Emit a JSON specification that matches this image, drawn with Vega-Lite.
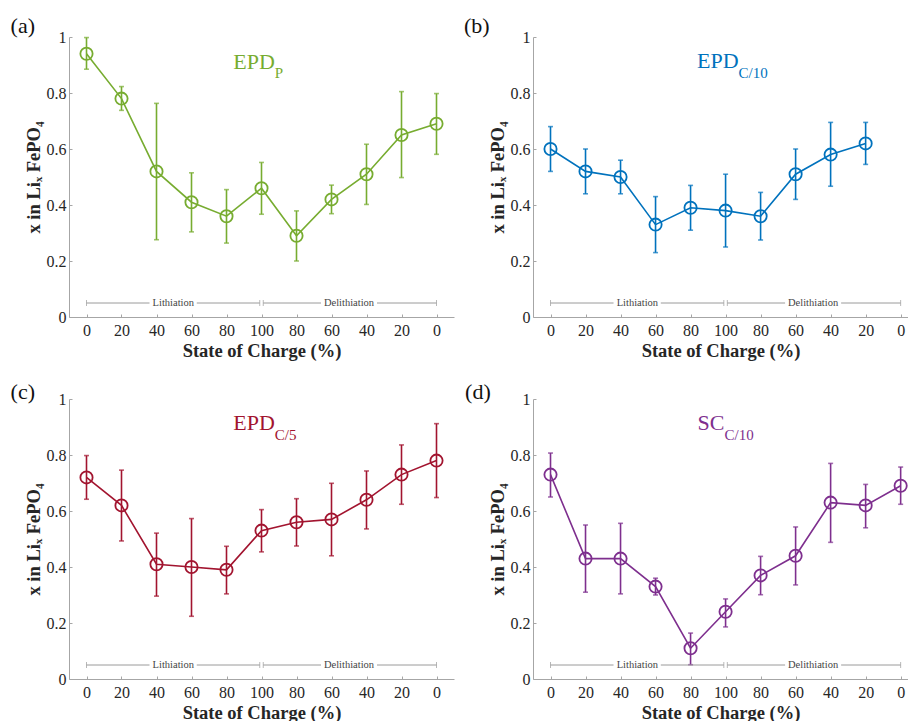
{
  "$schema": "https://vega.github.io/schema/vega-lite/v6.json",
  "padding": {"left": 10, "top": 14, "right": 0, "bottom": 0},
  "background": "white",
  "datasets": {
    "pts": [
      {"p":"a","i":0,"v":0.94,"lo":0.885,"hi":0.998},
      {"p":"a","i":1,"v":0.78,"lo":0.738,"hi":0.823},
      {"p":"a","i":2,"v":0.52,"lo":0.276,"hi":0.763},
      {"p":"a","i":3,"v":0.41,"lo":0.304,"hi":0.515},
      {"p":"a","i":4,"v":0.36,"lo":0.264,"hi":0.455},
      {"p":"a","i":5,"v":0.46,"lo":0.367,"hi":0.552},
      {"p":"a","i":6,"v":0.29,"lo":0.20,"hi":0.379},
      {"p":"a","i":7,"v":0.42,"lo":0.369,"hi":0.471},
      {"p":"a","i":8,"v":0.51,"lo":0.402,"hi":0.617},
      {"p":"a","i":9,"v":0.65,"lo":0.498,"hi":0.805},
      {"p":"a","i":10,"v":0.69,"lo":0.581,"hi":0.798},
      {"p":"b","i":0,"v":0.60,"lo":0.52,"hi":0.68},
      {"p":"b","i":1,"v":0.52,"lo":0.44,"hi":0.60},
      {"p":"b","i":2,"v":0.50,"lo":0.44,"hi":0.56},
      {"p":"b","i":3,"v":0.33,"lo":0.23,"hi":0.43},
      {"p":"b","i":4,"v":0.39,"lo":0.31,"hi":0.47},
      {"p":"b","i":5,"v":0.38,"lo":0.25,"hi":0.51},
      {"p":"b","i":6,"v":0.36,"lo":0.275,"hi":0.445},
      {"p":"b","i":7,"v":0.51,"lo":0.42,"hi":0.60},
      {"p":"b","i":8,"v":0.58,"lo":0.467,"hi":0.695},
      {"p":"b","i":9,"v":0.62,"lo":0.545,"hi":0.695},
      {"p":"c","i":0,"v":0.72,"lo":0.642,"hi":0.798},
      {"p":"c","i":1,"v":0.62,"lo":0.493,"hi":0.746},
      {"p":"c","i":2,"v":0.41,"lo":0.296,"hi":0.521},
      {"p":"c","i":3,"v":0.40,"lo":0.224,"hi":0.573},
      {"p":"c","i":4,"v":0.39,"lo":0.304,"hi":0.474},
      {"p":"c","i":5,"v":0.53,"lo":0.454,"hi":0.605},
      {"p":"c","i":6,"v":0.56,"lo":0.475,"hi":0.644},
      {"p":"c","i":7,"v":0.57,"lo":0.44,"hi":0.699},
      {"p":"c","i":8,"v":0.64,"lo":0.536,"hi":0.743},
      {"p":"c","i":9,"v":0.73,"lo":0.624,"hi":0.836},
      {"p":"c","i":10,"v":0.78,"lo":0.648,"hi":0.912},
      {"p":"d","i":0,"v":0.73,"lo":0.65,"hi":0.807},
      {"p":"d","i":1,"v":0.43,"lo":0.31,"hi":0.55},
      {"p":"d","i":2,"v":0.43,"lo":0.304,"hi":0.556},
      {"p":"d","i":3,"v":0.33,"lo":0.30,"hi":0.36},
      {"p":"d","i":4,"v":0.11,"lo":0.051,"hi":0.164},
      {"p":"d","i":5,"v":0.24,"lo":0.186,"hi":0.286},
      {"p":"d","i":6,"v":0.37,"lo":0.301,"hi":0.438},
      {"p":"d","i":7,"v":0.44,"lo":0.336,"hi":0.543},
      {"p":"d","i":8,"v":0.63,"lo":0.488,"hi":0.77},
      {"p":"d","i":9,"v":0.62,"lo":0.54,"hi":0.695},
      {"p":"d","i":10,"v":0.69,"lo":0.624,"hi":0.757}
    ],
    "seg": [{"s":0,"e":1.8},{"s":3.15,"e":4.95},{"s":5.05,"e":6.7},{"s":8.3,"e":10}],
    "caps": [{"c":0},{"c":4.95},{"c":5.05},{"c":10}],
    "phase": [{"t":"Lithiation","x":2.48},{"t":"Delithiation","x":7.5}],
    "lab": [
      {"p":"a","tag":"(a)","main":"EPD","sub":"P"},
      {"p":"b","tag":"(b)","main":"EPD","sub":"C/10"},
      {"p":"c","tag":"(c)","main":"EPD","sub":"C/5"},
      {"p":"d","tag":"(d)","main":"SC","sub":"C/10"}
    ]
  },
  "columns": 2,
  "spacing": {"row": 82, "column": 79},
  "bounds": "flush",
  "concat": [
      {
        "width": 385, "height": 280,
        "layer": [
          {"data": {"name": "pts"}, "transform": [{"filter": "datum.p==='a'"}],
           "mark": {"type": "line", "color": "#77AC30", "strokeWidth": 1.6},
           "encoding": {
             "x": {"field": "i", "type": "quantitative", "title": "State of Charge (%)", "scale": {"domain": [-0.5, 10.5], "nice": false, "zero": false}, "axis": {"values": [0,1,2,3,4,5,6,7,8,9,10], "tickCount": 30, "labelOverlap": false, "labelExpr": "datum.value <= 5 ? '' + round(datum.value*20) : '' + round((10-datum.value)*20)"}},
             "y": {"field": "v", "type": "quantitative", "title": "x in Liₓ FePO₄", "scale": {"domain": [0, 1], "nice": false}, "axis": {"values": [0,0.2,0.4,0.6,0.8,1], "tickCount": 30, "labelOverlap": false, "format": ".1~f"}}}},
          {"data": {"name": "pts"}, "transform": [{"filter": "datum.p==='a'"}],
           "mark": {"type": "rule", "color": "#77AC30", "strokeWidth": 1.6},
           "encoding": {"x": {"field": "i", "type": "quantitative", "title": "State of Charge (%)"}, "y": {"field": "lo", "type": "quantitative", "title": "x in Liₓ FePO₄"}, "y2": {"field": "hi"}}},
          {"data": {"name": "pts"}, "transform": [{"filter": "datum.p==='a'"}],
           "mark": {"type": "tick", "orient": "horizontal", "color": "#77AC30", "size": 5, "thickness": 1.6},
           "encoding": {"x": {"field": "i", "type": "quantitative", "title": "State of Charge (%)"}, "y": {"field": "lo", "type": "quantitative", "title": "x in Liₓ FePO₄"}}},
          {"data": {"name": "pts"}, "transform": [{"filter": "datum.p==='a'"}],
           "mark": {"type": "tick", "orient": "horizontal", "color": "#77AC30", "size": 5, "thickness": 1.6},
           "encoding": {"x": {"field": "i", "type": "quantitative", "title": "State of Charge (%)"}, "y": {"field": "hi", "type": "quantitative", "title": "x in Liₓ FePO₄"}}},
          {"data": {"name": "pts"}, "transform": [{"filter": "datum.p==='a'"}],
           "mark": {"type": "point", "shape": "circle", "filled": false, "color": "#77AC30", "size": 150, "strokeWidth": 1.8, "opacity": 1},
           "encoding": {"x": {"field": "i", "type": "quantitative", "title": "State of Charge (%)"}, "y": {"field": "v", "type": "quantitative", "title": "x in Liₓ FePO₄"}}},
          {"data": {"name": "seg"},
           "mark": {"type": "rule", "color": "#9a9a9a", "strokeWidth": 1},
           "encoding": {"x": {"field": "s", "type": "quantitative", "title": "State of Charge (%)"}, "x2": {"field": "e"}, "y": {"datum": 0.05, "type": "quantitative", "title": "x in Liₓ FePO₄"}}},
          {"data": {"name": "caps"},
           "mark": {"type": "tick", "orient": "vertical", "color": "#9a9a9a", "size": 6, "thickness": 1},
           "encoding": {"x": {"field": "c", "type": "quantitative", "title": "State of Charge (%)"}, "y": {"datum": 0.05, "type": "quantitative", "title": "x in Liₓ FePO₄"}}},
          {"data": {"name": "phase"},
           "mark": {"type": "text", "font": "Liberation Serif", "fontSize": 10.5, "color": "#444", "baseline": "middle", "align": "center"},
           "encoding": {"x": {"field": "x", "type": "quantitative", "title": "State of Charge (%)"}, "y": {"datum": 0.05, "type": "quantitative", "title": "x in Liₓ FePO₄"}, "text": {"field": "t"}}},
          {"data": {"name": "lab"}, "transform": [{"filter": "datum.p==='a'"}],
           "mark": {"type": "text", "font": "Liberation Serif", "fontSize": 22, "color": "#77AC30", "align": "right", "baseline": "alphabetic"},
           "encoding": {"x": {"datum": 5.38, "type": "quantitative", "title": "State of Charge (%)"}, "y": {"datum": 0.886, "type": "quantitative", "title": "x in Liₓ FePO₄"}, "text": {"field": "main"}}},
          {"data": {"name": "lab"}, "transform": [{"filter": "datum.p==='a'"}],
           "mark": {"type": "text", "font": "Liberation Serif", "fontSize": 15, "color": "#77AC30", "align": "left", "baseline": "alphabetic"},
           "encoding": {"x": {"datum": 5.38, "type": "quantitative", "title": "State of Charge (%)"}, "y": {"datum": 0.854, "type": "quantitative", "title": "x in Liₓ FePO₄"}, "text": {"field": "sub"}}},
          {"data": {"name": "lab"}, "transform": [{"filter": "datum.p==='a'"}],
           "mark": {"type": "text", "font": "Liberation Serif", "fontSize": 22, "color": "#111", "align": "left", "baseline": "alphabetic"},
           "encoding": {"x": {"datum": -2.17, "type": "quantitative", "title": "State of Charge (%)"}, "y": {"datum": 1.015, "type": "quantitative", "title": "x in Liₓ FePO₄"}, "text": {"field": "tag"}}}
        ]
      },
      {
        "width": 375, "height": 280,
        "layer": [
          {"data": {"name": "pts"}, "transform": [{"filter": "datum.p==='b'"}],
           "mark": {"type": "line", "color": "#0072BD", "strokeWidth": 1.6},
           "encoding": {
             "x": {"field": "i", "type": "quantitative", "title": "State of Charge (%)", "scale": {"domain": [-0.5, 10.21], "nice": false, "zero": false}, "axis": {"values": [0,1,2,3,4,5,6,7,8,9,10], "tickCount": 30, "labelOverlap": false, "labelExpr": "datum.value <= 5 ? '' + round(datum.value*20) : '' + round((10-datum.value)*20)"}},
             "y": {"field": "v", "type": "quantitative", "title": "x in Liₓ FePO₄", "scale": {"domain": [0, 1], "nice": false}, "axis": {"values": [0,0.2,0.4,0.6,0.8,1], "tickCount": 30, "labelOverlap": false, "format": ".1~f"}}}},
          {"data": {"name": "pts"}, "transform": [{"filter": "datum.p==='b'"}],
           "mark": {"type": "rule", "color": "#0072BD", "strokeWidth": 1.6},
           "encoding": {"x": {"field": "i", "type": "quantitative", "title": "State of Charge (%)"}, "y": {"field": "lo", "type": "quantitative", "title": "x in Liₓ FePO₄"}, "y2": {"field": "hi"}}},
          {"data": {"name": "pts"}, "transform": [{"filter": "datum.p==='b'"}],
           "mark": {"type": "tick", "orient": "horizontal", "color": "#0072BD", "size": 5, "thickness": 1.6},
           "encoding": {"x": {"field": "i", "type": "quantitative", "title": "State of Charge (%)"}, "y": {"field": "lo", "type": "quantitative", "title": "x in Liₓ FePO₄"}}},
          {"data": {"name": "pts"}, "transform": [{"filter": "datum.p==='b'"}],
           "mark": {"type": "tick", "orient": "horizontal", "color": "#0072BD", "size": 5, "thickness": 1.6},
           "encoding": {"x": {"field": "i", "type": "quantitative", "title": "State of Charge (%)"}, "y": {"field": "hi", "type": "quantitative", "title": "x in Liₓ FePO₄"}}},
          {"data": {"name": "pts"}, "transform": [{"filter": "datum.p==='b'"}],
           "mark": {"type": "point", "shape": "circle", "filled": false, "color": "#0072BD", "size": 150, "strokeWidth": 1.8, "opacity": 1},
           "encoding": {"x": {"field": "i", "type": "quantitative", "title": "State of Charge (%)"}, "y": {"field": "v", "type": "quantitative", "title": "x in Liₓ FePO₄"}}},
          {"data": {"name": "seg"},
           "mark": {"type": "rule", "color": "#9a9a9a", "strokeWidth": 1},
           "encoding": {"x": {"field": "s", "type": "quantitative", "title": "State of Charge (%)"}, "x2": {"field": "e"}, "y": {"datum": 0.05, "type": "quantitative", "title": "x in Liₓ FePO₄"}}},
          {"data": {"name": "caps"},
           "mark": {"type": "tick", "orient": "vertical", "color": "#9a9a9a", "size": 6, "thickness": 1},
           "encoding": {"x": {"field": "c", "type": "quantitative", "title": "State of Charge (%)"}, "y": {"datum": 0.05, "type": "quantitative", "title": "x in Liₓ FePO₄"}}},
          {"data": {"name": "phase"},
           "mark": {"type": "text", "font": "Liberation Serif", "fontSize": 10.5, "color": "#444", "baseline": "middle", "align": "center"},
           "encoding": {"x": {"field": "x", "type": "quantitative", "title": "State of Charge (%)"}, "y": {"datum": 0.05, "type": "quantitative", "title": "x in Liₓ FePO₄"}, "text": {"field": "t"}}},
          {"data": {"name": "lab"}, "transform": [{"filter": "datum.p==='b'"}],
           "mark": {"type": "text", "font": "Liberation Serif", "fontSize": 22, "color": "#0072BD", "align": "right", "baseline": "alphabetic"},
           "encoding": {"x": {"datum": 5.37, "type": "quantitative", "title": "State of Charge (%)"}, "y": {"datum": 0.89, "type": "quantitative", "title": "x in Liₓ FePO₄"}, "text": {"field": "main"}}},
          {"data": {"name": "lab"}, "transform": [{"filter": "datum.p==='b'"}],
           "mark": {"type": "text", "font": "Liberation Serif", "fontSize": 15, "color": "#0072BD", "align": "left", "baseline": "alphabetic"},
           "encoding": {"x": {"datum": 5.37, "type": "quantitative", "title": "State of Charge (%)"}, "y": {"datum": 0.853, "type": "quantitative", "title": "x in Liₓ FePO₄"}, "text": {"field": "sub"}}},
          {"data": {"name": "lab"}, "transform": [{"filter": "datum.p==='b'"}],
           "mark": {"type": "text", "font": "Liberation Serif", "fontSize": 22, "color": "#111", "align": "left", "baseline": "alphabetic"},
           "encoding": {"x": {"datum": -2.47, "type": "quantitative", "title": "State of Charge (%)"}, "y": {"datum": 1.015, "type": "quantitative", "title": "x in Liₓ FePO₄"}, "text": {"field": "tag"}}}
        ]
      },
      {
        "width": 385, "height": 280,
        "layer": [
          {"data": {"name": "pts"}, "transform": [{"filter": "datum.p==='c'"}],
           "mark": {"type": "line", "color": "#A2142F", "strokeWidth": 1.6},
           "encoding": {
             "x": {"field": "i", "type": "quantitative", "title": "State of Charge (%)", "scale": {"domain": [-0.5, 10.5], "nice": false, "zero": false}, "axis": {"values": [0,1,2,3,4,5,6,7,8,9,10], "tickCount": 30, "labelOverlap": false, "labelExpr": "datum.value <= 5 ? '' + round(datum.value*20) : '' + round((10-datum.value)*20)"}},
             "y": {"field": "v", "type": "quantitative", "title": "x in Liₓ FePO₄", "scale": {"domain": [0, 1], "nice": false}, "axis": {"values": [0,0.2,0.4,0.6,0.8,1], "tickCount": 30, "labelOverlap": false, "format": ".1~f"}}}},
          {"data": {"name": "pts"}, "transform": [{"filter": "datum.p==='c'"}],
           "mark": {"type": "rule", "color": "#A2142F", "strokeWidth": 1.6},
           "encoding": {"x": {"field": "i", "type": "quantitative", "title": "State of Charge (%)"}, "y": {"field": "lo", "type": "quantitative", "title": "x in Liₓ FePO₄"}, "y2": {"field": "hi"}}},
          {"data": {"name": "pts"}, "transform": [{"filter": "datum.p==='c'"}],
           "mark": {"type": "tick", "orient": "horizontal", "color": "#A2142F", "size": 5, "thickness": 1.6},
           "encoding": {"x": {"field": "i", "type": "quantitative", "title": "State of Charge (%)"}, "y": {"field": "lo", "type": "quantitative", "title": "x in Liₓ FePO₄"}}},
          {"data": {"name": "pts"}, "transform": [{"filter": "datum.p==='c'"}],
           "mark": {"type": "tick", "orient": "horizontal", "color": "#A2142F", "size": 5, "thickness": 1.6},
           "encoding": {"x": {"field": "i", "type": "quantitative", "title": "State of Charge (%)"}, "y": {"field": "hi", "type": "quantitative", "title": "x in Liₓ FePO₄"}}},
          {"data": {"name": "pts"}, "transform": [{"filter": "datum.p==='c'"}],
           "mark": {"type": "point", "shape": "circle", "filled": false, "color": "#A2142F", "size": 150, "strokeWidth": 1.8, "opacity": 1},
           "encoding": {"x": {"field": "i", "type": "quantitative", "title": "State of Charge (%)"}, "y": {"field": "v", "type": "quantitative", "title": "x in Liₓ FePO₄"}}},
          {"data": {"name": "seg"},
           "mark": {"type": "rule", "color": "#9a9a9a", "strokeWidth": 1},
           "encoding": {"x": {"field": "s", "type": "quantitative", "title": "State of Charge (%)"}, "x2": {"field": "e"}, "y": {"datum": 0.05, "type": "quantitative", "title": "x in Liₓ FePO₄"}}},
          {"data": {"name": "caps"},
           "mark": {"type": "tick", "orient": "vertical", "color": "#9a9a9a", "size": 6, "thickness": 1},
           "encoding": {"x": {"field": "c", "type": "quantitative", "title": "State of Charge (%)"}, "y": {"datum": 0.05, "type": "quantitative", "title": "x in Liₓ FePO₄"}}},
          {"data": {"name": "phase"},
           "mark": {"type": "text", "font": "Liberation Serif", "fontSize": 10.5, "color": "#444", "baseline": "middle", "align": "center"},
           "encoding": {"x": {"field": "x", "type": "quantitative", "title": "State of Charge (%)"}, "y": {"datum": 0.05, "type": "quantitative", "title": "x in Liₓ FePO₄"}, "text": {"field": "t"}}},
          {"data": {"name": "lab"}, "transform": [{"filter": "datum.p==='c'"}],
           "mark": {"type": "text", "font": "Liberation Serif", "fontSize": 22, "color": "#A2142F", "align": "right", "baseline": "alphabetic"},
           "encoding": {"x": {"datum": 5.38, "type": "quantitative", "title": "State of Charge (%)"}, "y": {"datum": 0.889, "type": "quantitative", "title": "x in Liₓ FePO₄"}, "text": {"field": "main"}}},
          {"data": {"name": "lab"}, "transform": [{"filter": "datum.p==='c'"}],
           "mark": {"type": "text", "font": "Liberation Serif", "fontSize": 15, "color": "#A2142F", "align": "left", "baseline": "alphabetic"},
           "encoding": {"x": {"datum": 5.38, "type": "quantitative", "title": "State of Charge (%)"}, "y": {"datum": 0.854, "type": "quantitative", "title": "x in Liₓ FePO₄"}, "text": {"field": "sub"}}},
          {"data": {"name": "lab"}, "transform": [{"filter": "datum.p==='c'"}],
           "mark": {"type": "text", "font": "Liberation Serif", "fontSize": 22, "color": "#111", "align": "left", "baseline": "alphabetic"},
           "encoding": {"x": {"datum": -2.17, "type": "quantitative", "title": "State of Charge (%)"}, "y": {"datum": 1.0, "type": "quantitative", "title": "x in Liₓ FePO₄"}, "text": {"field": "tag"}}}
        ]
      },
      {
        "width": 375, "height": 280,
        "layer": [
          {"data": {"name": "pts"}, "transform": [{"filter": "datum.p==='d'"}],
           "mark": {"type": "line", "color": "#7E2F8E", "strokeWidth": 1.6},
           "encoding": {
             "x": {"field": "i", "type": "quantitative", "title": "State of Charge (%)", "scale": {"domain": [-0.5, 10.21], "nice": false, "zero": false}, "axis": {"values": [0,1,2,3,4,5,6,7,8,9,10], "tickCount": 30, "labelOverlap": false, "labelExpr": "datum.value <= 5 ? '' + round(datum.value*20) : '' + round((10-datum.value)*20)"}},
             "y": {"field": "v", "type": "quantitative", "title": "x in Liₓ FePO₄", "scale": {"domain": [0, 1], "nice": false}, "axis": {"values": [0,0.2,0.4,0.6,0.8,1], "tickCount": 30, "labelOverlap": false, "format": ".1~f"}}}},
          {"data": {"name": "pts"}, "transform": [{"filter": "datum.p==='d'"}],
           "mark": {"type": "rule", "color": "#7E2F8E", "strokeWidth": 1.6},
           "encoding": {"x": {"field": "i", "type": "quantitative", "title": "State of Charge (%)"}, "y": {"field": "lo", "type": "quantitative", "title": "x in Liₓ FePO₄"}, "y2": {"field": "hi"}}},
          {"data": {"name": "pts"}, "transform": [{"filter": "datum.p==='d'"}],
           "mark": {"type": "tick", "orient": "horizontal", "color": "#7E2F8E", "size": 5, "thickness": 1.6},
           "encoding": {"x": {"field": "i", "type": "quantitative", "title": "State of Charge (%)"}, "y": {"field": "lo", "type": "quantitative", "title": "x in Liₓ FePO₄"}}},
          {"data": {"name": "pts"}, "transform": [{"filter": "datum.p==='d'"}],
           "mark": {"type": "tick", "orient": "horizontal", "color": "#7E2F8E", "size": 5, "thickness": 1.6},
           "encoding": {"x": {"field": "i", "type": "quantitative", "title": "State of Charge (%)"}, "y": {"field": "hi", "type": "quantitative", "title": "x in Liₓ FePO₄"}}},
          {"data": {"name": "pts"}, "transform": [{"filter": "datum.p==='d'"}],
           "mark": {"type": "point", "shape": "circle", "filled": false, "color": "#7E2F8E", "size": 150, "strokeWidth": 1.8, "opacity": 1},
           "encoding": {"x": {"field": "i", "type": "quantitative", "title": "State of Charge (%)"}, "y": {"field": "v", "type": "quantitative", "title": "x in Liₓ FePO₄"}}},
          {"data": {"name": "seg"},
           "mark": {"type": "rule", "color": "#9a9a9a", "strokeWidth": 1},
           "encoding": {"x": {"field": "s", "type": "quantitative", "title": "State of Charge (%)"}, "x2": {"field": "e"}, "y": {"datum": 0.05, "type": "quantitative", "title": "x in Liₓ FePO₄"}}},
          {"data": {"name": "caps"},
           "mark": {"type": "tick", "orient": "vertical", "color": "#9a9a9a", "size": 6, "thickness": 1},
           "encoding": {"x": {"field": "c", "type": "quantitative", "title": "State of Charge (%)"}, "y": {"datum": 0.05, "type": "quantitative", "title": "x in Liₓ FePO₄"}}},
          {"data": {"name": "phase"},
           "mark": {"type": "text", "font": "Liberation Serif", "fontSize": 10.5, "color": "#444", "baseline": "middle", "align": "center"},
           "encoding": {"x": {"field": "x", "type": "quantitative", "title": "State of Charge (%)"}, "y": {"datum": 0.05, "type": "quantitative", "title": "x in Liₓ FePO₄"}, "text": {"field": "t"}}},
          {"data": {"name": "lab"}, "transform": [{"filter": "datum.p==='d'"}],
           "mark": {"type": "text", "font": "Liberation Serif", "fontSize": 22, "color": "#7E2F8E", "align": "right", "baseline": "alphabetic"},
           "encoding": {"x": {"datum": 4.97, "type": "quantitative", "title": "State of Charge (%)"}, "y": {"datum": 0.889, "type": "quantitative", "title": "x in Liₓ FePO₄"}, "text": {"field": "main"}}},
          {"data": {"name": "lab"}, "transform": [{"filter": "datum.p==='d'"}],
           "mark": {"type": "text", "font": "Liberation Serif", "fontSize": 15, "color": "#7E2F8E", "align": "left", "baseline": "alphabetic"},
           "encoding": {"x": {"datum": 4.97, "type": "quantitative", "title": "State of Charge (%)"}, "y": {"datum": 0.854, "type": "quantitative", "title": "x in Liₓ FePO₄"}, "text": {"field": "sub"}}},
          {"data": {"name": "lab"}, "transform": [{"filter": "datum.p==='d'"}],
           "mark": {"type": "text", "font": "Liberation Serif", "fontSize": 22, "color": "#111", "align": "left", "baseline": "alphabetic"},
           "encoding": {"x": {"datum": -2.44, "type": "quantitative", "title": "State of Charge (%)"}, "y": {"datum": 1.0, "type": "quantitative", "title": "x in Liₓ FePO₄"}, "text": {"field": "tag"}}}
        ]
      }
  ],
  "config": {
    "view": {"stroke": null},
    "font": "Liberation Serif",
    "axis": {
      "grid": false,
      "labelOverlap": false,
      "domainColor": "#a6a6a6",
      "tickColor": "#a6a6a6",
      "tickSize": -3,
      "labelFont": "Liberation Serif",
      "labelFontSize": 16,
      "labelColor": "#262626",
      "titleFont": "Liberation Serif",
      "titleFontSize": 18.5,
      "titleFontWeight": "bold",
      "titleColor": "#262626"
    },
    "axisX": {"labelPadding": 8, "titlePadding": 3},
    "axisY": {"labelPadding": 6, "titlePadding": 3}
  }
}
